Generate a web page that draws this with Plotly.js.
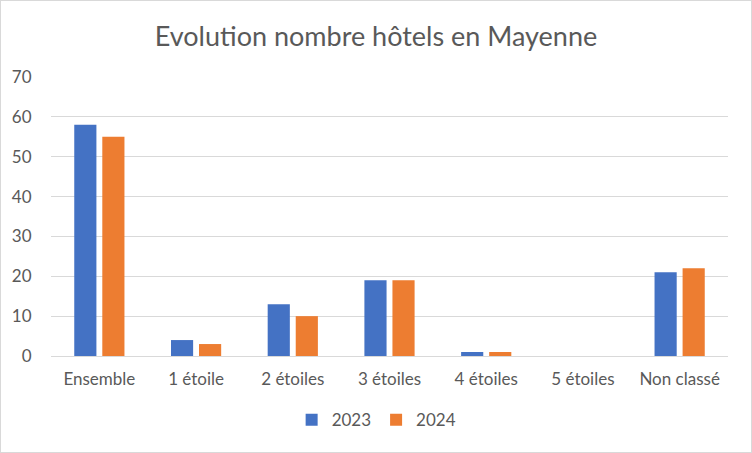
<!DOCTYPE html>
<html><head><meta charset="utf-8">
<script src="https://cdn.plot.ly/plotly-3.0.1.min.js"></script>
<style>html,body{margin:0;padding:0;background:#fff;}#c{width:750px;height:451px;border:1px solid #d9d9d9;}</style>
</head><body><div id="c"></div>
<script>
const categories = ["Ensemble", "1 étoile", "2 étoiles", "3 étoiles", "4 étoiles", "5 étoiles", "Non classé"];
const values2023 = [58, 4, 13, 19, 1, 0, 21];
const values2024 = [55, 3, 10, 19, 1, 0, 22];
const yTicks = [0, 10, 20, 30, 40, 50, 60, 70];
const font = "Lato, 'Open Sans', sans-serif";
const data = [
  {type: 'bar', name: '2023', x: categories, y: values2023, marker: {color: '#4472c4'}, hoverinfo: 'y'},
  {type: 'bar', name: '2024', x: categories, y: values2024, marker: {color: '#ed7d31'}, hoverinfo: 'y'}
];
const layout = {
  width: 750, height: 451,
  margin: {l: 50, r: 23, t: 76, b: 96},
  paper_bgcolor: '#fff', plot_bgcolor: '#fff',
  font: {family: font, color: '#595959', size: 17},
  title: {text: 'Evolution nombre hôtels en Mayenne', font: {size: 27, color: '#595959', family: font}, x: 0.5, xanchor: 'center', y: 0.922, yanchor: 'middle'},
  barmode: 'group', bargap: 0.42, bargroupgap: 0.21,
  xaxis: {type: 'category', showgrid: false, showline: true, linecolor: '#d9d9d9', linewidth: 1, ticks: 'outside', ticklen: 0, ticklabelstandoff: 8, tickfont: {size: 17, color: '#595959'}, fixedrange: true},
  yaxis: {range: [0, 70], tickvals: yTicks, showgrid: true, gridcolor: '#d9d9d9', gridwidth: 1, zeroline: false, showline: false, ticks: 'outside', ticklen: 0, ticklabelstandoff: 15, tickfont: {size: 17, color: '#595959'}, fixedrange: true},
  legend: {orientation: 'h', x: 0.481, xanchor: 'center', y: -0.23, yanchor: 'middle', font: {size: 17, color: '#595959'}, itemwidth: 30, traceorder: 'normal'},
  showlegend: true
};
Plotly.newPlot('c', data, layout, {displayModeBar: false, staticPlot: true});
</script></body></html>
